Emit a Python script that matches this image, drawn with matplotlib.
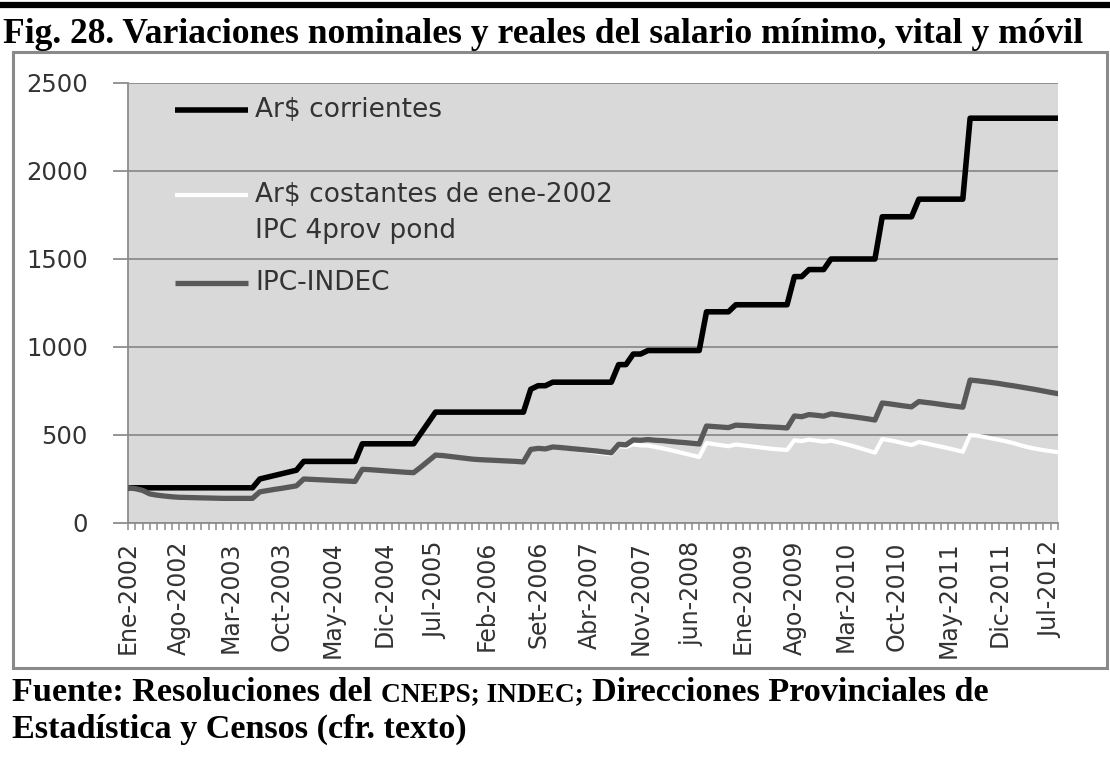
import numpy as np
import matplotlib
matplotlib.use("Agg")
import matplotlib.pyplot as plt
from matplotlib.patches import Rectangle
from matplotlib.lines import Line2D
from matplotlib.ticker import MultipleLocator, FixedLocator

# ---------------- data ----------------
title = "Fig. 28. Variaciones nominales y reales del salario mínimo, vital y móvil"
source_parts = ["Fuente: Resoluciones del", "CNEPS; INDEC;", "Direcciones Provinciales de"]
source_line2 = "Estadística y Censos (cfr. texto)"

tick_labels = ["Ene-2002", "Ago-2002", "Mar-2003", "Oct-2003", "May-2004", "Dic-2004",
               "Jul-2005", "Feb-2006", "Set-2006", "Abr-2007", "Nov-2007", "jun-2008",
               "Ene-2009", "Ago-2009", "Mar-2010", "Oct-2010", "May-2011", "Dic-2011",
               "Jul-2012"]
series_labels = ["Ar$ corrientes", "Ar$ costantes de ene-2002\nIPC 4prov pond", "IPC-INDEC"]
yticks = [0, 500, 1000, 1500, 2000, 2500]

# monthly values, Jan-2002 .. Aug-2012
nominal = [
    200, 200, 200, 200, 200, 200, 200, 200, 200, 200, 200, 200,      # 2002
    200, 200, 200, 200, 200, 200, 250, 260, 270, 280, 290, 300,      # 2003
    350, 350, 350, 350, 350, 350, 350, 350, 450, 450, 450, 450,      # 2004
    450, 450, 450, 450, 510, 570, 630, 630, 630, 630, 630, 630,      # 2005
    630, 630, 630, 630, 630, 630, 630, 760, 780, 780, 800, 800,      # 2006
    800, 800, 800, 800, 800, 800, 800, 900, 900, 960, 960, 980,      # 2007
    980, 980, 980, 980, 980, 980, 980, 1200, 1200, 1200, 1200, 1240, # 2008
    1240, 1240, 1240, 1240, 1240, 1240, 1240, 1400, 1400, 1440, 1440, 1440,  # 2009
    1500, 1500, 1500, 1500, 1500, 1500, 1500, 1740, 1740, 1740, 1740, 1740,  # 2010
    1840, 1840, 1840, 1840, 1840, 1840, 1840, 2300, 2300, 2300, 2300, 2300,  # 2011
    2300, 2300, 2300, 2300, 2300, 2300, 2300, 2300,                  # 2012
]
real_indec = [
    200, 195, 185, 165, 158, 153, 149, 146, 145, 144, 143, 142,      # 2002
    141, 140, 140, 140, 140, 140, 177, 184, 191, 197, 204, 211,      # 2003
    250, 248, 246, 244, 242, 240, 238, 236, 305, 303, 300, 297,      # 2004
    294, 291, 288, 286, 318, 352, 386, 383, 378, 373, 368, 363,      # 2005
    360, 358, 356, 354, 352, 350, 347, 418, 424, 421, 432, 429,      # 2006
    425, 421, 417, 413, 409, 404, 399, 447, 444, 472, 470, 474,      # 2007
    470, 468, 464, 460, 457, 453, 449, 551, 548, 545, 542, 556,      # 2008
    554, 552, 549, 547, 545, 543, 540, 608, 604, 616, 612, 607,      # 2009
    620, 615, 609, 604, 598, 592, 585, 682, 677, 671, 665, 660,      # 2010
    690, 685, 680, 674, 668, 663, 658, 812, 808, 803, 798, 792,      # 2011
    785, 779, 772, 765, 758, 750, 742, 735,                          # 2012
]
real_4prov = [
    200, 195, 185, 165, 158, 153, 149, 146, 145, 144, 143, 142,      # 2002
    141, 140, 140, 140, 140, 140, 177, 184, 191, 197, 204, 211,      # 2003
    250, 248, 246, 244, 242, 240, 238, 236, 305, 303, 300, 297,      # 2004
    294, 291, 288, 286, 318, 352, 386, 383, 378, 373, 368, 363,      # 2005
    360, 358, 356, 354, 352, 350, 347, 418, 424, 421, 432, 429,      # 2006
    423, 418, 412, 406, 400, 395, 390, 437, 432, 447, 441, 440,      # 2007
    432, 424, 415, 405, 395, 385, 375, 455, 448, 442, 436, 446,      # 2008
    441, 436, 431, 426, 421, 418, 415, 470, 465, 474, 468, 462,      # 2009
    468, 458, 448, 437, 425, 412, 400, 477, 470, 462, 452, 443,      # 2010
    460, 452, 443, 434, 425, 415, 405, 500, 496, 488, 480, 472,      # 2011
    463, 453, 440, 430, 421, 414, 408, 402,                          # 2012
]

# ---------------- figure ----------------
W, H = 1110, 760
fig = plt.figure(figsize=(W / 100, H / 100), dpi=100)
fig.patch.set_facecolor("white")


def fx(px):
    return px / W


def fy(py):
    return 1 - py / H


# top rule and chart frame
fig.add_artist(Line2D([0, 1], [fy(5), fy(5)], color="black", lw=4.5))
fig.add_artist(Rectangle((fx(13), fy(668)), fx(1107) - fx(13), fy(52) - fy(668),
                         fill=False, edgecolor="#8a8a8a", lw=2.2, transform=fig.transFigure))

ax = fig.add_axes([fx(128), fy(523), fx(1058) - fx(128), fy(83) - fy(523)])
ax.set_facecolor("#d9d9d9")

x = np.arange(len(nominal))
ax.plot(x, nominal, color="black", lw=4.0, zorder=3, solid_joinstyle="round")
ax.plot(x, real_4prov, color="white", lw=3.0, zorder=3, solid_joinstyle="round")
ax.plot(x, real_indec, color="#595959", lw=3.8, zorder=4, solid_joinstyle="round")

ax.set_xlim(0, len(nominal) - 1)
ax.set_ylim(0, 2500)
ax.set_yticks(yticks)
ax.yaxis.grid(True, color="#8c8c8c", lw=1.3)
ax.set_axisbelow(True)
for s in ["top", "right"]:
    ax.spines[s].set_visible(False)
for s in ["left", "bottom"]:
    ax.spines[s].set_color("#8c8c8c")
    ax.spines[s].set_linewidth(1.3)

tick_pos = list(range(0, len(nominal), 7))[:len(tick_labels)]
ax.xaxis.set_major_locator(FixedLocator(tick_pos))
ax.set_xticklabels(tick_labels, rotation=90, fontsize=17, color="#333333",
                   fontfamily="DejaVu Sans")
ax.xaxis.set_minor_locator(MultipleLocator(1))
ax.tick_params(axis="x", which="both", length=5, width=1.1, color="#8c8c8c",
               direction="out", pad=8)
ax.tick_params(axis="y", length=11, width=1.3, color="#8c8c8c", pad=18,
               labelsize=17.5, labelcolor="#333333")

# legend (inside plot area, Excel-like)
leg_styles = [("black", 4.0), ("white", 3.0), ("#595959", 3.8)]
leg_y_px = [110, 213.5, 283]
line_y_px = [110, 195, 283]
for (col, lw), lab, ty, ly in zip(leg_styles, series_labels, leg_y_px, line_y_px):
    yl = (523 - ly) / 440
    yt = (523 - ty) / 440
    ax.plot([0.0505, 0.129], [yl, yl], transform=ax.transAxes, color=col, lw=lw,
            solid_capstyle="butt", clip_on=False, zorder=5)
    ax.text(0.1366, yt, lab, transform=ax.transAxes, va="center", ha="left",
            fontsize=19, color="#333333", linespacing=1.5, fontfamily="DejaVu Sans",
            zorder=5)

# title and source
serif = "Liberation Serif"
t_title = fig.text(fx(3), fy(43), title, fontfamily=serif, fontweight="bold",
                   fontsize=22, va="baseline", ha="left", color="black")
big = 18
small_ratio = 0.8
p1 = fig.text(fx(12), fy(701), source_parts[0], fontfamily=serif, fontweight="bold",
              fontsize=big, va="baseline", ha="left")
p2 = fig.text(fx(400), fy(701), source_parts[1], fontfamily=serif, fontweight="bold",
              fontsize=big * small_ratio, va="baseline", ha="left")
p3 = fig.text(fx(600), fy(701), source_parts[2], fontfamily=serif, fontweight="bold",
              fontsize=big, va="baseline", ha="left")
l2 = fig.text(fx(12), fy(738), source_line2, fontfamily=serif, fontweight="bold",
              fontsize=big, va="baseline", ha="left")

fig.canvas.draw()
r = fig.canvas.get_renderer()


def fit(t, target):
    w = t.get_window_extent(r).width
    t.set_fontsize(t.get_fontsize() * target / w)


def place_line1(fs):
    p1.set_fontsize(fs)
    p3.set_fontsize(fs)
    p2.set_fontsize(fs * small_ratio)
    fig.canvas.draw()
    gap = fs * 100 / 72 * 0.25
    b1 = p1.get_window_extent(r)
    p2.set_x(fx(b1.x1 + gap))
    fig.canvas.draw()
    b2 = p2.get_window_extent(r)
    p3.set_x(fx(b2.x1 + gap))
    fig.canvas.draw()
    return p3.get_window_extent(r).x1 - p1.get_window_extent(r).x0


fit(t_title, 1080)
w_line1 = place_line1(big)
fs = big * 978 / w_line1
place_line1(fs)
l2.set_fontsize(fs)

fig.savefig("out.png", dpi=100)
